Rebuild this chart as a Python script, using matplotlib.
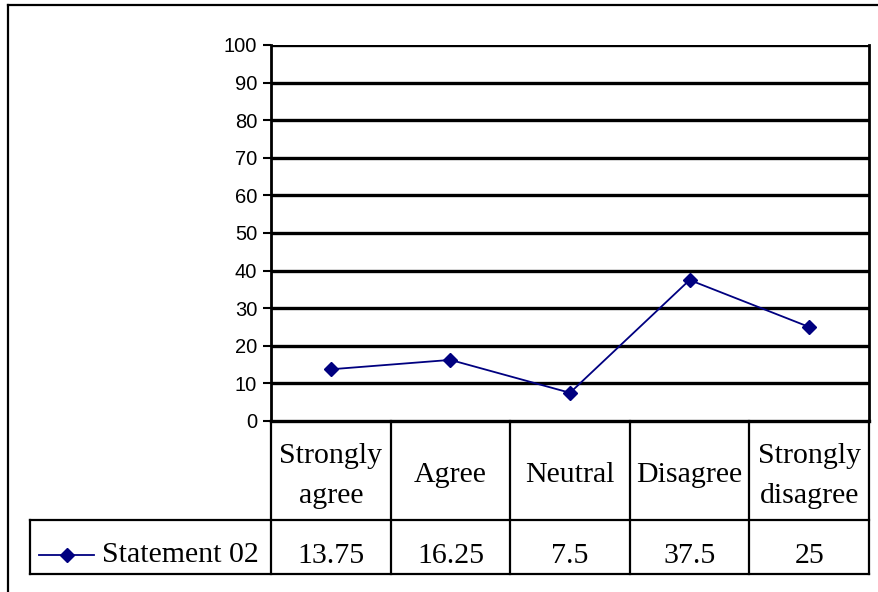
import matplotlib
matplotlib.use("Agg")
import matplotlib.pyplot as plt
from matplotlib.lines import Line2D
from matplotlib.transforms import blended_transform_factory

categories = ["Strongly\nagree", "Agree", "Neutral", "Disagree", "Strongly\ndisagree"]
values = [13.75, 16.25, 7.5, 37.5, 25]
value_labels = ["13.75", "16.25", "7.5", "37.5", "25"]
series_name = "Statement 02"
y_ticks = [0, 10, 20, 30, 40, 50, 60, 70, 80, 90, 100]

W, H = 879, 592
fig = plt.figure(figsize=(W / 100, H / 100), dpi=100)
fig.patch.set_facecolor("white")

# plot area in pixel units
left, right, top, bottom = 271, 869, 45, 421
ax = fig.add_axes([left / W, 1 - bottom / H, (right - left) / W, (bottom - top) / H])


def ay(p):
    """pixel row -> axes fraction"""
    return (bottom - p) / (bottom - top)


def ax_x(p):
    """pixel column -> axes fraction"""
    return (p - left) / (right - left)


navy = "#000080"
x = list(range(len(values)))
ax.plot(x, values, color=navy, lw=1.3, marker="D", markersize=7.5,
        markerfacecolor=navy, markeredgecolor=navy, zorder=5)
ax.set_xlim(-0.5, len(values) - 0.5)
ax.set_ylim(0, 100)
ax.set_yticks(y_ticks)
ax.set_yticklabels([str(t) for t in y_ticks], family="Liberation Sans", fontsize=14.5)
ax.tick_params(axis="y", length=6, width=1.5, pad=4, direction="out")
ax.set_xticks([])
for t in y_ticks[1:]:
    ax.axhline(t, color="black", lw=2.4, zorder=2)
for side in ["top", "bottom"]:
    ax.spines[side].set_visible(False)
ax.spines["left"].set_linewidth(2)
ax.spines["right"].set_linewidth(2)
ax.axhline(0, color="black", lw=2.4, zorder=2, clip_on=False)

# data table below the axis
row1 = ay(520)
row2 = ay(574)
leg_left = ax_x(30)
bt = blended_transform_factory(ax.transData, ax.transAxes)
serif = "Liberation Serif"
fs = 21.5
tlw = 1.6
for k in range(len(values) + 1):
    ax.add_line(Line2D([k - 0.5, k - 0.5], [0, row2], transform=bt,
                       color="black", lw=tlw, clip_on=False))
ax.add_line(Line2D([leg_left, 1], [row1, row1], transform=ax.transAxes,
                   color="black", lw=tlw, clip_on=False))
ax.add_line(Line2D([leg_left, 1], [row2, row2], transform=ax.transAxes,
                   color="black", lw=tlw, clip_on=False))
ax.add_line(Line2D([leg_left, leg_left], [row1, row2], transform=ax.transAxes,
                   color="black", lw=tlw, clip_on=False))

for k, (cat, lab) in enumerate(zip(categories, value_labels)):
    lines = cat.split("\n")
    baselines = [463, 503] if len(lines) == 2 else [482]
    for line, b in zip(lines, baselines):
        ax.text(k, ay(b), line, transform=bt, ha="center", va="baseline",
                family=serif, fontsize=fs, clip_on=False)
    ax.text(k, ay(563), lab, transform=bt, ha="center", va="baseline",
            family=serif, fontsize=fs, clip_on=False)

# legend key inside the table
ax.add_line(Line2D([ax_x(39), ax_x(94)], [ay(555), ay(555)], transform=ax.transAxes,
                   color=navy, lw=1.3, clip_on=False))
ax.add_line(Line2D([ax_x(67)], [ay(555)], transform=ax.transAxes,
                   marker="D", markersize=7, color=navy, clip_on=False))
ax.text(ax_x(102), ay(562), series_name, transform=ax.transAxes,
        ha="left", va="baseline", family=serif, fontsize=fs, clip_on=False)

# outer chart frame
fig.add_artist(Line2D([8 / W, 8 / W], [1 - 5 / H, 0], transform=fig.transFigure,
                      color="black", lw=1.6))
fig.add_artist(Line2D([8 / W, 1], [1 - 5 / H, 1 - 5 / H], transform=fig.transFigure,
                      color="black", lw=1.6))

fig.savefig("out.png", dpi=100)
